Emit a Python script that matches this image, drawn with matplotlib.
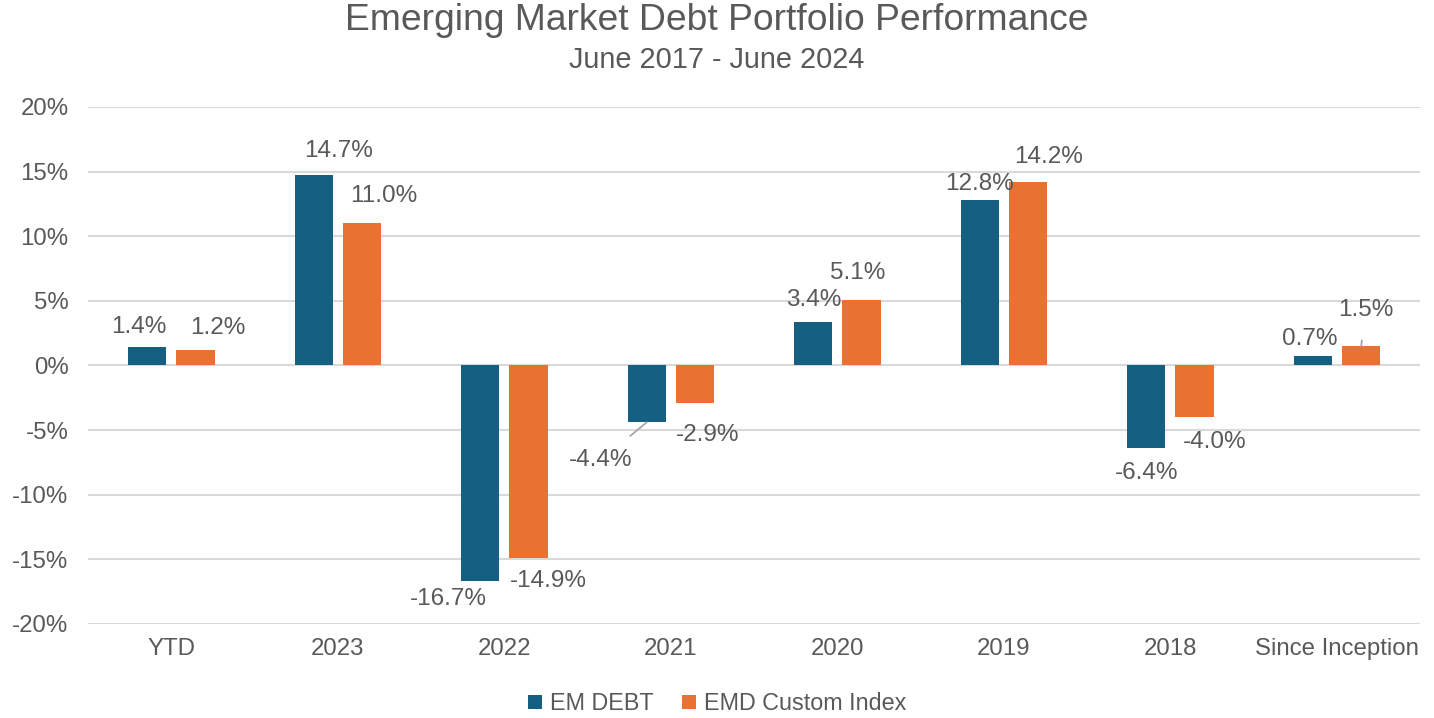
import matplotlib.pyplot as plt
import numpy as np

# data
categories = ['YTD', '2023', '2022', '2021', '2020', '2019', '2018', 'Since Inception']
em_debt = [1.4, 14.7, -16.7, -4.4, 3.4, 12.8, -6.4, 0.7]
emd_index = [1.2, 11.0, -14.9, -2.9, 5.1, 14.2, -4.0, 1.5]
series_names = ['EM DEBT', 'EMD Custom Index']
yticks = [-20, -15, -10, -5, 0, 5, 10, 15, 20]

# label offsets in pixels (dx, dy) from the bar end
off_debt = [(-8, 20), (25, 24), (-32, -18), (-46, -38), (0, 22), (0, 16), (0, -25), (-3, 17)]
off_index = [(22, 22), (22, 27), (20, -23), (13, -32), (-4, 27), (20, 25), (20, -25), (5, 36)]
leaders = {('debt', 3), ('index', 7)}

plt.rcParams['font.family'] = ['Liberation Sans', 'DejaVu Sans']
txt = '#595959'
c1 = '#156082'
c2 = '#E97132'

fig = plt.figure(figsize=(14.34, 7.18), dpi=100)
ax = fig.add_axes([0.0614, 0.131, 0.929, 0.72])

x = np.arange(len(categories))
w = 0.23
b1 = ax.bar(x - 0.145, em_debt, w, color=c1, label=series_names[0], zorder=3)
b2 = ax.bar(x + 0.145, emd_index, w, color=c2, label=series_names[1], zorder=3)

for name, bars, vals, offs in [('debt', b1, em_debt, off_debt), ('index', b2, emd_index, off_index)]:
    for i, (bar, v) in enumerate(zip(bars, vals)):
        xc = bar.get_x() + bar.get_width() / 2
        ap = None
        if (name, i) in leaders:
            ap = dict(arrowstyle='-', color='#a6a6a6', lw=1.3, shrinkA=12, shrinkB=0)
        ax.annotate(f'{v:.1f}%', xy=(xc, v), xytext=offs[i], textcoords='offset pixels',
                    ha='center', va='center', fontsize=17.5, color=txt, arrowprops=ap)

ax.set_ylim(-20, 20)
ax.set_xlim(-0.5, len(categories) - 0.5)
ax.set_yticks(yticks)
ax.set_yticklabels([f'{t}%' for t in yticks])
ax.set_xticks(x)
ax.set_xticklabels(categories)
ax.tick_params(length=0, labelsize=17.3, labelcolor=txt, pad=10)
ax.tick_params(axis='y', pad=14)
ax.grid(axis='y', color='#d9d9d9', lw=1.5, zorder=0)
for s in ax.spines.values():
    s.set_visible(False)

fig.text(0.5, 0.971, 'Emerging Market Debt Portfolio Performance', ha='center', va='center',
         fontsize=26.8, color=txt)
fig.text(0.5, 0.917, 'June 2017 - June 2024', ha='center', va='center', fontsize=20.8, color=txt)

fig.legend(loc='center', bbox_to_anchor=(0.5, 0.02), ncol=2, frameon=False, fontsize=16.8,
           labelcolor=txt, handlelength=0.6, handleheight=0.6, handletextpad=0.35,
           columnspacing=1.2)

fig.savefig('out.png', dpi=100)
